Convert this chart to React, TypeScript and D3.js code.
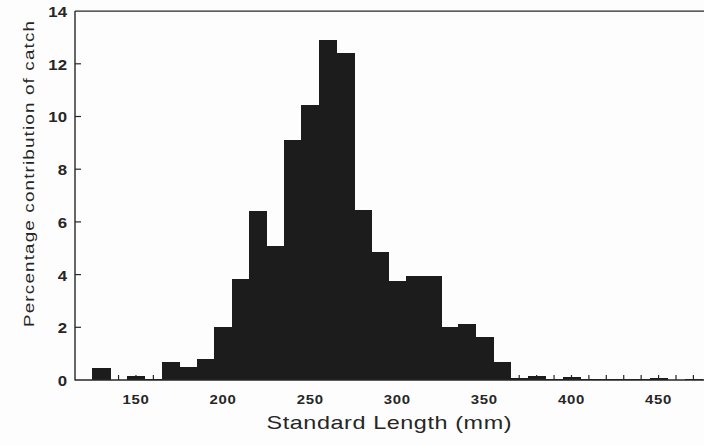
import React from "react";
import * as d3 from "d3";

const binCenters = [130,140,150,160,170,180,190,200,210,220,230,240,250,260,270,280,290,300,310,320,330,340,350,360,370,380,390,400,410,420,430,440,450,460,470];
const percentages = [0.45,0,0.15,0.05,0.7,0.49,0.8,2.02,3.84,6.42,5.07,9.1,10.42,12.92,12.42,6.46,4.85,3.77,3.96,3.96,2.03,2.12,1.65,0.7,0.07,0.15,0.03,0.1,0.03,0.03,0.03,0.02,0.07,0,0.05];
const xTickValues = [150,200,250,300,350,400,450];
const yTickValues = [0,2,4,6,8,10,12,14];
const binWidth = 10;
const xLabel = "Standard Length (mm)";
const yLabel = "Percentage contribution of catch";

export default function App() {
  const W = 704, H = 445;
  const x = d3.scaleLinear().domain([115, 490]).range([75, 75 + 375 * 1.742]);
  const y = d3.scaleLinear().domain([0, 14]).range([380, 11.1]);
  const ink = "#262626";
  const barFill = "#1c1c1c";
  const font = "'Liberation Sans', Arial, Helvetica, sans-serif";
  const sx = 1.3;
  return (
    <svg width={W} height={H} style={{ position: "absolute", left: 0, top: 0, background: "#fdfdfd" }}>
      <rect x={0} y={0} width={W} height={H} fill="#fdfdfd" />
      {/* small inward ticks at each bin centre */}
      {binCenters.map((c) => (
        <line key={"t" + c} x1={x(c)} x2={x(c)} y1={y(0)} y2={y(0) - 5} stroke={ink} strokeWidth={1.2} />
      ))}
      {/* bars */}
      <g shapeRendering="crispEdges">
        {binCenters.map((c, i) => {
          const v = percentages[i];
          if (v <= 0) return null;
          const x0 = x(c - binWidth / 2);
          const x1 = x(c + binWidth / 2);
          const h = Math.max(y(0) - y(v), 1);
          return <rect key={"b" + c} x={x0} y={y(0) - h} width={x1 - x0 + 0.8} height={h} fill={barFill} />;
        })}
      </g>
      {/* frame */}
      <line x1={x(115)} x2={x(115)} y1={y(14)} y2={y(0) + 0.5} stroke={ink} strokeWidth={1.4} />
      <line x1={x(115)} x2={W + 5} y1={y(14)} y2={y(14)} stroke={ink} strokeWidth={1.4} />
      <line x1={x(115)} x2={W + 5} y1={y(0)} y2={y(0)} stroke={ink} strokeWidth={1.6} />
      {/* y ticks */}
      {yTickValues.map((v) => (
        <g key={"y" + v}>
          {v > 0 && v < 14 && (
            <line x1={x(115)} x2={x(115) + 6} y1={y(v)} y2={y(v)} stroke={ink} strokeWidth={1.2} />
          )}
          <text transform={`translate(67,${y(v) + 2}) scale(1.12,1)`} textAnchor="end" dominantBaseline="middle" fontFamily={font} fontWeight="bold" fontSize={15} fill={ink}>
            {v}
          </text>
        </g>
      ))}
      {/* x tick labels */}
      {xTickValues.map((v) => (
        <text key={"x" + v} transform={`translate(${x(v)},404) scale(1.15,1)`} textAnchor="middle" fontFamily={font} fontWeight="bold" fontSize={13} letterSpacing={0.6} fill={ink}>
          {v}
        </text>
      ))}
      <text transform={`translate(389,429) scale(${sx},1)`} textAnchor="middle" fontFamily={font} fontSize={18} textLength={245 / sx} lengthAdjust="spacing" fill={ink}>
        {xLabel}
      </text>
      <text transform={`translate(34,174) rotate(-90) scale(${sx},1)`} textAnchor="middle" fontFamily={font} fontSize={14.5} textLength={306 / sx} lengthAdjust="spacing" fill={ink}>
        {yLabel}
      </text>
    </svg>
  );
}
